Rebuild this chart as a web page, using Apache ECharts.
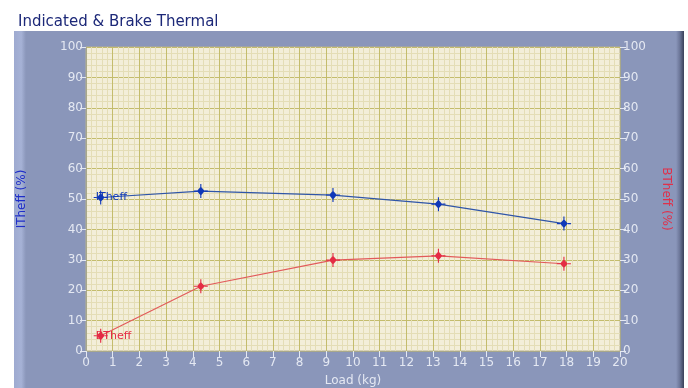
<!DOCTYPE html>
<html>
<head>
<meta charset="utf-8">
<script src="https://cdn.jsdelivr.net/npm/echarts@6/dist/echarts.min.js"></script>
<style>
  html, body { margin: 0; padding: 0; background: #ffffff; }
  #chart { width: 688px; height: 388px; }
</style>
</head>
<body>
<div id="chart"></div>
<script>
// Engine test: indicated and brake thermal efficiency against load
const loadKg   = [0.55, 4.3, 9.25, 13.2, 17.9];
const iThEff   = [50.5, 52.6, 51.3, 48.3, 41.9];
const bThEff   = [5.0, 21.3, 29.9, 31.3, 28.7];
const titleText = 'Indicated & Brake Thermal';
const xName = 'Load (kg)';
const leftName = 'ITheff (%)';
const rightName = 'BTheff (%)';
const seriesNames = ['ITheff', 'BTheff'];

// plus-with-diamond marker
const crossMarker = 'path://M9.2,0 L10.8,0 L10.8,4.5 L15.5,10 L10.8,15.5 L10.8,20 L9.2,20 L9.2,15.5 L4.5,10 L9.2,4.5 Z M0,9.2 L4.5,9.2 L4.5,10.8 L0,10.8 Z M15.5,9.2 L20,9.2 L20,10.8 L15.5,10.8 Z';

const pairs = (xs, ys) => xs.map((x, i) => [x, ys[i]]);

const tickLabel = { color: '#e4e8f2', fontSize: 12, fontFamily: 'DejaVu Sans' };
const tickLine = { show: true, length: 6, lineStyle: { color: '#e4e8f2', width: 1 } };
const majorGrid = { show: true, lineStyle: { color: '#c4bc6c', width: 1 } };
const minorGrid = { show: true, lineStyle: { color: '#e4ddb6', width: 1 } };

function yAxisDef(pos, name, color, rotate, gap) {
  return {
    type: 'value', position: pos, min: 0, max: 100, interval: 10,
    name: name, nameLocation: 'middle', nameGap: gap, nameRotate: rotate,
    nameTextStyle: { color: color, fontSize: 12, fontFamily: 'DejaVu Sans' },
    axisLine: { show: true, lineStyle: { color: '#a8a88a' } },
    axisTick: tickLine,
    axisLabel: Object.assign({ margin: 3 }, tickLabel),
    splitLine: pos === 'left' ? majorGrid : { show: false },
    minorTick: { show: pos === 'left', splitNumber: 5, length: 0 },
    minorSplitLine: pos === 'left' ? minorGrid : { show: false }
  };
}

function lineSeries(idx, name, data, lineColor, markColor) {
  return {
    name: name, type: 'line', yAxisIndex: idx === 0 ? 0 : 1,
    data: data.map((p, i) => i === 0 ? {
      value: p,
      label: {
        show: true, formatter: name, position: 'right', distance: 0,
        offset: [-12, 0], color: markColor, fontSize: 11,
        fontFamily: 'DejaVu Sans'
      }
    } : p),
    symbol: crossMarker, symbolSize: 14, showSymbol: true,
    itemStyle: { color: markColor },
    lineStyle: { color: lineColor, width: 1.2 },
    z: 3
  };
}

const chart = echarts.init(document.getElementById('chart'), null, { renderer: 'canvas' });
chart.setOption({
  animation: false,
  backgroundColor: '#ffffff',
  title: {
    text: titleText, left: 13, top: 10,
    textStyle: { color: '#1c2878', fontSize: 15, fontWeight: 'normal', fontFamily: 'DejaVu Sans' }
  },
  graphic: [
    { type: 'rect', shape: { x: 14, y: 31, width: 670, height: 360, r: [4, 4, 0, 0] }, style: { fill: '#8a96ba' }, z: -10 },
    { type: 'rect', shape: { x: 14, y: 31, width: 12, height: 360 },
      style: { fill: new echarts.graphic.LinearGradient(0, 0, 1, 0, [
        { offset: 0, color: '#9eaad0' }, { offset: 0.6, color: '#a6b2d6' }, { offset: 1, color: '#8a96ba' }]) }, z: -9 },
    { type: 'rect', shape: { x: 676, y: 31, width: 8, height: 360 },
      style: { fill: new echarts.graphic.LinearGradient(0, 0, 1, 0, [
        { offset: 0, color: '#8a96ba' }, { offset: 0.5, color: '#6a7496' }, { offset: 1, color: '#3a4058' }]) }, z: -9 }
  ],
  grid: {
    left: 86, right: 68, top: 47, bottom: 37, outerBoundsMode: 'none',
    show: true, backgroundColor: '#f3eed9', borderColor: '#b8b290', borderWidth: 1
  },
  xAxis: {
    type: 'value', min: 0, max: 20, interval: 1,
    name: xName, nameLocation: 'middle', nameGap: 24,
    nameTextStyle: { color: '#e4e8f2', fontSize: 12, fontFamily: 'DejaVu Sans' },
    axisLine: { show: true, lineStyle: { color: '#a8a88a' } },
    axisTick: tickLine,
    axisLabel: Object.assign({ margin: 6 }, tickLabel),
    splitLine: majorGrid,
    minorTick: { show: true, splitNumber: 5, length: 0 },
    minorSplitLine: minorGrid
  },
  yAxis: [
    yAxisDef('left', leftName, '#1e2ec8', 90, 58),
    yAxisDef('right', rightName, '#e0304a', -90, 40)
  ],
  series: [
    lineSeries(0, seriesNames[0], pairs(loadKg, iThEff), '#2f55a8', '#1038b8'),
    lineSeries(1, seriesNames[1], pairs(loadKg, bThEff), '#e25a5a', '#e42c44')
  ]
});
</script>
</body>
</html>
